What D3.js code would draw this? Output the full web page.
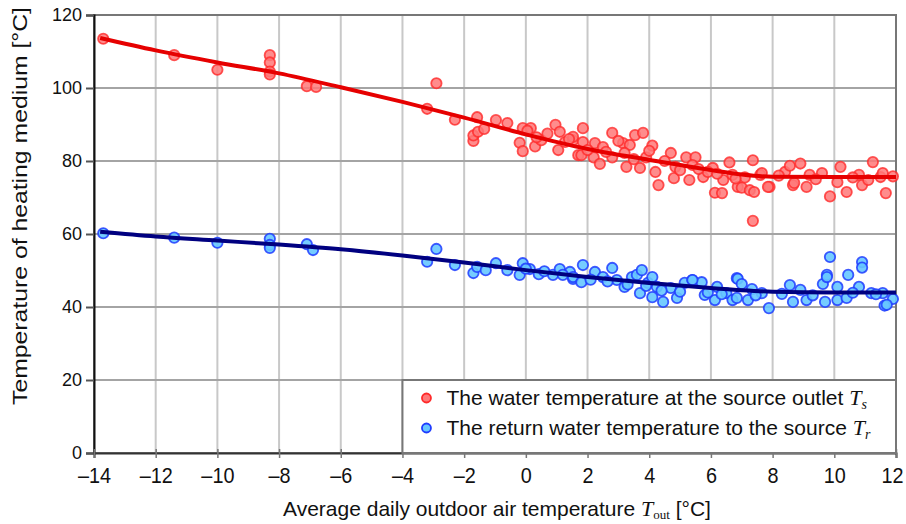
<!DOCTYPE html>
<html>
<head>
<meta charset="utf-8">
<script src="https://cdn.jsdelivr.net/npm/d3@7"></script>
<style>
  body { margin: 0; background: #fff; }
  svg { display: block; }
</style>
</head>
<body>
<div id="chart"></div>
<script>
// outdoor temperature / supply (Ts) points
const tsX = [-13.7, -11.4, -10.0, -8.3, -8.3, -8.3, -8.3, -7.1, -6.8, -3.2, -2.9, -2.3, -1.58, -1.7, -1.7, -1.55, -1.35,
  -0.97, -0.6, -0.2, -0.1, -0.1, 0.16, 0.3, 0.5, 0.96, 1.1, 1.05, 1.27, 1.53, 1.7, 1.85, 1.53, 1.85, 2.24, 1.8, 2.2, 2.4,
  2.5, 2.8, 2.8, 3.15, 3.37, 3.2, 3.54, 3.8, 3.26, 3.7, 3.9, 4.1, 4.2, 4.3, 4.7, 4.85, 4.8, 5.2, 5.3, 5.5, 5.4, 5.75, 6.06,
  6.13, 6.36, 6.4, 6.6, 6.7, 6.87, 7.0, 7.26, 7.4, 7.36, 7.36, 7.6, 7.65, 7.9, 7.85, 8.4, 8.56, 8.9, 8.66, 8.7, 9.1, 9.2,
  9.6, 9.86, 10.2, 10.1, 10.4, 10.8, 10.9, 11.25, 11.5, 11.57, 11.67, 11.9, 0.05, 0.7, 2.0, 2.6, 3.0, 4.5, 5.0, 5.9, 6.2,
  7.1, 8.2, 9.4, 10.6, 11.1, 0.35, 1.4, 3.5, 4.0, 5.6, 6.8];
const tsY = [113.5, 109, 105, 109, 107, 104.5, 103.7, 100.5, 100.3, 94.3, 101.3, 91.3, 92, 85.5, 87, 88, 88.8,
  91.2, 90.4, 85, 82.7, 89, 89, 84, 85.7, 89.9, 88, 83, 85.2, 85.7, 81.6, 89, 86.6, 85.2, 84.9, 81.6, 81, 79.2,
  83.8, 87.7, 81, 84.9, 84.4, 82.2, 87.1, 87.7, 78.4, 78.1, 81, 84.2, 77, 73.4, 82.2, 78.4, 75.3, 81, 74.8, 81, 78.9, 75.6, 78.1,
  71.3, 71.2, 74.8, 79.6, 76.2, 72.9, 72.7, 72, 71.5, 80.2, 63.6, 76.2, 76.7, 72.9, 72.9, 77, 78.7, 79.3, 73.4, 74, 72.9, 76.2,
  76.7, 70.3, 78.4, 74.2, 71.5, 76.2, 73.4, 79.7, 75.6, 76.7, 71.2, 75.8, 88.3, 87.5, 83, 82.5, 85.5, 80, 77.5, 77, 76.5,
  75.5, 76, 75, 75.5, 74.8, 86.5, 86, 80.5, 82.8, 77.8, 75.2];

// outdoor temperature / return (Tr) points
const trX = [-13.7, -11.4, -10.0, -8.3, -8.3, -8.3, -7.1, -6.9, -3.2, -2.9, -2.3, -1.7, -1.58, -1.3, -0.97, -0.6, -0.1,
  -0.2, 0.13, 0.42, 0.88, 1.1, 1.43, 1.53, 1.85, 1.53, 2.24, 1.8, 2.5, 2.8, 2.95, 3.2, 3.44, 3.6, 3.76, 3.7, 3.96, 4.1,
  4.45, 4.25, 4.7, 4.9, 5.15, 5.4, 5.7, 5.8, 6.13, 6.2, 6.5, 6.84, 6.7, 6.87, 7.0, 6.84, 7.33, 7.2, 7.65, 7.88, 8.56,
  8.66, 8.9, 9.1, 9.63, 9.76, 9.86, 9.7, 10.1, 10.1, 10.45, 10.4, 10.8, 10.9, 10.9, 11.2, 11.57, 11.63, 11.9, 4.1, 5.4,
  9.76, 11.7, 0.0, 0.6, 2.1, 2.65, 3.3, 4.4, 5.0, 5.9, 6.35, 7.45, 8.3, 9.3, 10.6, 11.35, 1.2, 3.9];
const trY = [60.2, 59, 57.6, 58.7, 57, 56.2, 57.2, 55.6, 52.4, 55.9, 51.5, 49.3, 51, 50.1, 52, 50.1, 52,
  48.8, 50.4, 49, 48.8, 50.4, 49.6, 47.7, 51.5, 48.2, 49.6, 46.8, 48.2, 50.7, 47.4, 45.5, 48.2, 48.8, 50.1, 43.8, 46.6, 42.7,
  41.4, 45.5, 45.2, 42.5, 46.6, 47.4, 46.8, 43.3, 41.9, 45.5, 43.8, 47.9, 41.9, 47.7, 46.3, 42.5, 44.9, 41.9, 43.8, 39.7, 46,
  41.4, 44.7, 41.9, 46.3, 48.8, 53.7, 41.4, 45.5, 41.9, 48.8, 42.5, 45.5, 52.3, 50.8, 43.8, 43.8, 40.4, 42.2, 48.2, 47.4,
  48.2, 40.6, 50.5, 49.8, 47.5, 47, 46.2, 44.5, 44.2, 44, 43.5, 43.2, 43.6, 43.2, 43.9, 43.5, 48.8, 45.8];

// fitted trend curves
const fitX = [-13.8, -12, -10, -8, -6, -4, -2, 0, 2, 4, 6, 7, 8, 10, 12];
const fitTs = [113.7, 110.3, 107, 104, 100.2, 96.2, 91.9, 87.3, 83.3, 80.3, 77.5, 76.3, 75.7, 75.6, 75.6];
const fitTr = [60.6, 59.3, 58.2, 57.1, 55.8, 54.1, 52.2, 50.1, 48.2, 46.6, 45.2, 44.6, 44.2, 44.0, 44.0];

const xTicks = [-14, -12, -10, -8, -6, -4, -2, 0, 2, 4, 6, 8, 10, 12];
const yTicks = [0, 20, 40, 60, 80, 100, 120];

const W = 906, H = 524;
const margin = { top: 15, right: 10, bottom: 71, left: 94 };
const width = W - margin.left - margin.right;
const height = H - margin.top - margin.bottom;

const svg = d3.select('#chart').append('svg').attr('width', W).attr('height', H);
const g = svg.append('g').attr('transform', `translate(${margin.left}, ${margin.top})`);

const x = d3.scaleLinear().domain([-14, 12]).range([0, width]);
const y = d3.scaleLinear().domain([0, 120]).range([height, 0]);

// grid
g.append('g').selectAll('line').data(xTicks).join('line')
  .attr('x1', d => x(d)).attr('x2', d => x(d)).attr('y1', 0).attr('y2', height)
  .attr('stroke', '#c8c8c8').attr('stroke-width', 2);
g.append('g').selectAll('line').data(yTicks).join('line')
  .attr('x1', 0).attr('x2', width).attr('y1', d => y(d)).attr('y2', d => y(d))
  .attr('stroke', '#a4a4a4').attr('stroke-width', 2);

// frame
g.append('rect').attr('x', 0).attr('y', 0).attr('width', width).attr('height', height)
  .attr('fill', 'none').attr('stroke', '#777').attr('stroke-width', 2);

// axes
const yAxis = d3.axisLeft(y).tickValues(yTicks).tickSize(8).tickPadding(4);
const xAxis = d3.axisBottom(x).tickValues(xTicks).tickFormat(d => d < 0 ? '\u2013' + Math.abs(d) : d).tickSize(5).tickPadding(9);

const ya = g.append('g').attr('class', 'y axis').call(yAxis);
ya.select('.domain').attr('stroke', '#111').attr('stroke-width', 2);
ya.selectAll('.tick line').attr('stroke', '#555').attr('stroke-width', 2);
ya.selectAll('.tick text').attr('font-family', 'Liberation Sans, Arial, sans-serif').attr('font-size', 18).attr('fill', '#111');

const xa = g.append('g').attr('class', 'x axis').attr('transform', `translate(0, ${height})`).call(xAxis);
xa.select('.domain').attr('stroke', '#333').attr('stroke-width', 2);
xa.selectAll('.tick line').attr('stroke', '#777').attr('stroke-width', 1.5).attr('y1', -4);
xa.selectAll('.tick text').attr('font-family', 'Liberation Sans, Arial, sans-serif').attr('font-size', 22).attr('fill', '#111')
  .each(function (d) {
    // condensed look of the original tick labels
    const w = this.getComputedTextLength();
    d3.select(this).attr('textLength', w * 0.9).attr('lengthAdjust', 'spacingAndGlyphs');
    if (d === 12) d3.select(this).attr('dx', -4);
  });

// points
const tsPts = tsX.map((d, i) => [d, tsY[i]]);
const trPts = trX.map((d, i) => [d, trY[i]]);

g.append('g').selectAll('circle').data(tsPts).join('circle')
  .attr('cx', d => x(d[0])).attr('cy', d => y(d[1])).attr('r', 5.2)
  .attr('fill', '#ff7878').attr('fill-opacity', 0.85)
  .attr('stroke', '#ff2a2a').attr('stroke-width', 1.8).attr('stroke-opacity', 0.8);

g.append('g').selectAll('circle').data(trPts).join('circle')
  .attr('cx', d => x(d[0])).attr('cy', d => y(d[1])).attr('r', 5.2)
  .attr('fill', '#66c6ff').attr('fill-opacity', 0.9)
  .attr('stroke', '#1f3cff').attr('stroke-width', 1.8).attr('stroke-opacity', 0.85);

// trend lines
const line = d3.line().curve(d3.curveMonotoneX).x(d => x(d[0])).y(d => y(d[1]));
g.append('path').datum(fitX.map((d, i) => [d, fitTs[i]]))
  .attr('fill', 'none').attr('stroke', '#e60000').attr('stroke-width', 4).attr('d', line);
g.append('path').datum(fitX.map((d, i) => [d, fitTr[i]]))
  .attr('fill', 'none').attr('stroke', '#000080').attr('stroke-width', 4).attr('d', line);

// legend
const lg = g.append('g');
lg.append('rect').attr('x', x(-4)).attr('y', y(20)).attr('width', x(12) - x(-4)).attr('height', y(0) - y(20))
  .attr('fill', '#fff').attr('stroke', '#777').attr('stroke-width', 2);
const legendItems = [
  { label: 'The water temperature at the source outlet ', sym: 's', fill: '#ff7878', stroke: '#ff2a2a' },
  { label: 'The return water temperature to the source ', sym: 'r', fill: '#66c6ff', stroke: '#1f3cff' }
];
legendItems.forEach((it, i) => {
  const cy = y(20) + 18 + i * 30;
  lg.append('circle').attr('cx', x(-4) + 24).attr('cy', cy).attr('r', 4.5)
    .attr('fill', it.fill).attr('stroke', it.stroke).attr('stroke-width', 1.8);
  const t = lg.append('text').attr('x', x(-4) + 44).attr('y', cy + 7)
    .attr('font-family', 'Liberation Sans, Arial, sans-serif').attr('font-size', 21).attr('fill', '#111');
  t.append('tspan').text(it.label);
  t.append('tspan').attr('font-family', 'Liberation Serif, Times New Roman, serif').attr('font-style', 'italic').attr('font-size', 22).text('T');
  t.append('tspan').attr('font-family', 'Liberation Serif, Times New Roman, serif').attr('font-style', 'italic').attr('font-size', 14).attr('dy', 4).text(it.sym);
});

// axis titles
svg.append('text')
  .attr('transform', `translate(27, 206) rotate(-90)`)
  .attr('text-anchor', 'middle')
  .attr('font-family', 'Liberation Sans, Arial, sans-serif').attr('font-size', 20).attr('fill', '#111')
  .attr('textLength', 398).attr('lengthAdjust', 'spacingAndGlyphs')
  .text('Temperature of heating medium [°C]');

const xt = svg.append('text')
  .attr('x', 497).attr('y', 516).attr('text-anchor', 'middle')
  .attr('font-family', 'Liberation Sans, Arial, sans-serif').attr('font-size', 21).attr('fill', '#111');
xt.append('tspan').text('Average daily outdoor air temperature ');
xt.append('tspan').attr('font-family', 'Liberation Serif, Times New Roman, serif').attr('font-style', 'italic').attr('font-size', 22).text('T');
xt.append('tspan').attr('font-family', 'Liberation Serif, Times New Roman, serif').attr('font-size', 13).attr('dy', 3).text('out');
xt.append('tspan').attr('dy', -3).text(' [°C]');
</script>
</body>
</html>
